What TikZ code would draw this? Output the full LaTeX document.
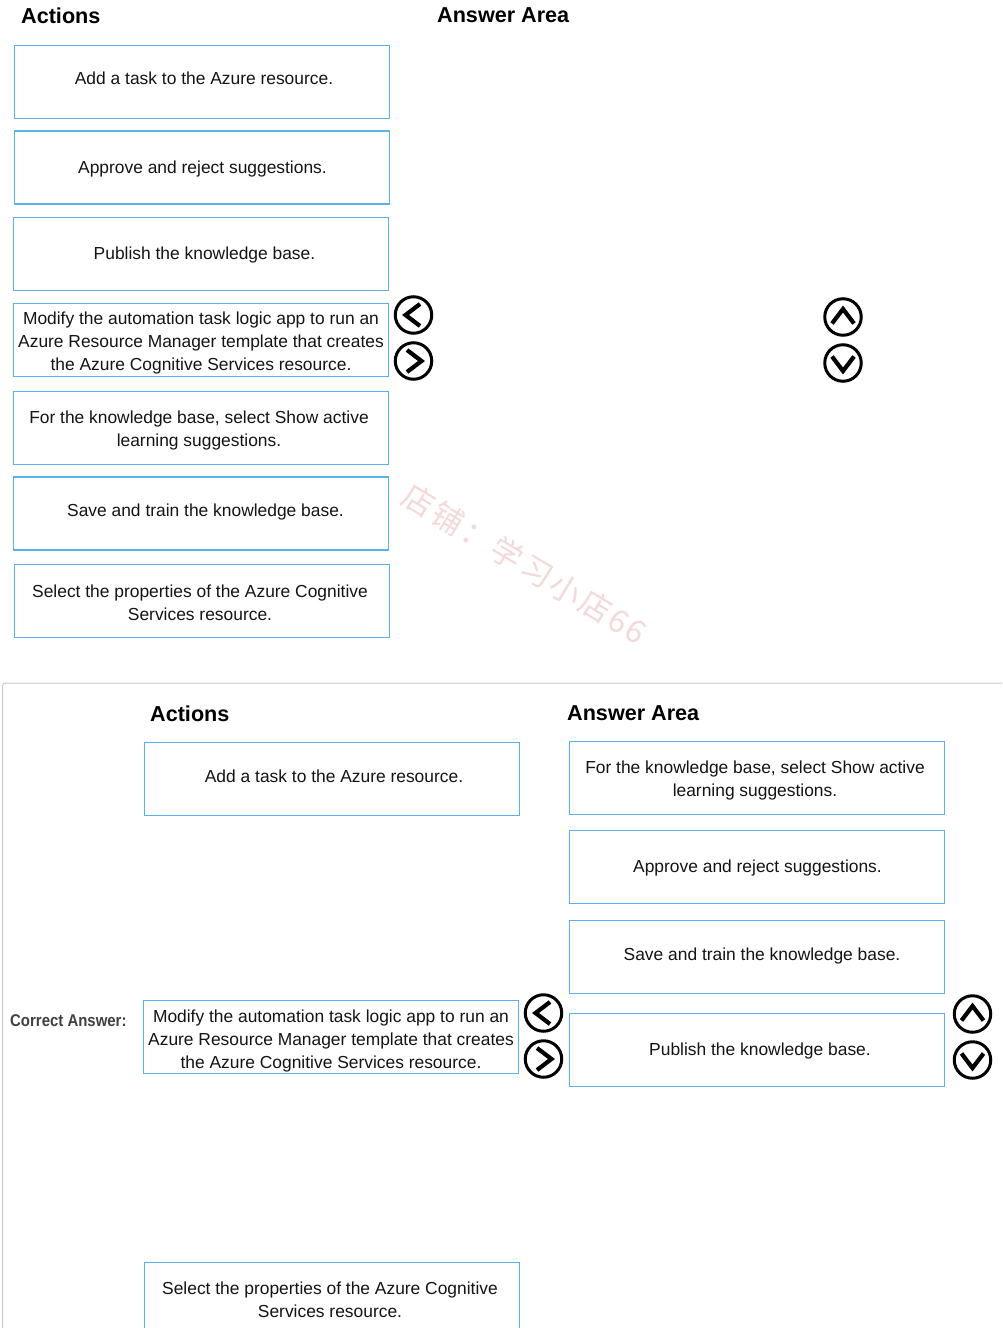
\documentclass[tikz,border=0pt]{standalone}
\usepackage{fontspec}
\setmainfont{Liberation Sans}
\newfontfamily\cjkwm[LetterSpace=9]{Noto Sans CJK SC}
\definecolor{boxblue}{HTML}{5AB2EA}
\definecolor{wmpink}{HTML}{F3DADA}
\tikzset{
  x=1pt,y=-1pt,
  actbox/.style={draw=boxblue,line width=1.25pt,fill=white,minimum width=375pt,minimum height=73pt,inner sep=0pt,outer sep=0pt},
  boxtext/.style={inner sep=0pt,align=center,font=\fontsize{17.4}{23}\selectfont,text=black!92},
  headtext/.style={font=\bfseries\fontsize{21.6}{26}\selectfont,inner sep=0pt,anchor=base west},
  roundbtn/.style={circle,draw=black,line width=3pt,minimum size=36.5pt,inner sep=0pt},
  chev/.style={line width=4.2pt,line cap=butt,line join=miter,black}
}
% name, box position, text position, text
\newcommand{\actnode}[4]{\node[actbox] (#1) at #2 {};\node[boxtext] (#1t) at #3 {#4};}
\newcommand{\btnleft}[2]{\node[roundbtn] (#1) at #2 {};\draw[chev] ([shift={(6.5,-11)}]#1.center) -- ([shift={(-8,0)}]#1.center) -- ([shift={(6.5,11)}]#1.center);}
\newcommand{\btnright}[2]{\node[roundbtn] (#1) at #2 {};\draw[chev] ([shift={(-6.5,-11)}]#1.center) -- ([shift={(8,0)}]#1.center) -- ([shift={(-6.5,11)}]#1.center);}
\newcommand{\btnup}[2]{\node[roundbtn] (#1) at #2 {};\draw[chev] ([shift={(-11,6.5)}]#1.center) -- ([shift={(0,-8)}]#1.center) -- ([shift={(11,6.5)}]#1.center);}
\newcommand{\btndown}[2]{\node[roundbtn] (#1) at #2 {};\draw[chev] ([shift={(-11,-6.5)}]#1.center) -- ([shift={(0,8)}]#1.center) -- ([shift={(11,-6.5)}]#1.center);}
\begin{document}
\begin{tikzpicture}
\useasboundingbox (0,0) rectangle (1002,1328);
\fill[white] (0,0) rectangle (1002,1328);
% top panel
\node[headtext] (h1) at (21,23) {Actions};
\node[headtext] (h2) at (437,22) {Answer Area};
\actnode{a1}{(202,82)}{(204,78.5)}{Add a task to the Azure resource.}
\actnode{a2}{(202,167.5)}{(202.5,168.5)}{Approve and reject suggestions.}
\actnode{a3}{(201,254)}{(204.5,255)}{Publish the knowledge base.}
\actnode{a4}{(201,340)}{(201,342.5)}{Modify the automation task logic app to run an\\Azure Resource Manager template that creates\\the Azure Cognitive Services resource.}
\actnode{a5}{(201,428)}{(199,430)}{For the knowledge base, select Show active\\learning suggestions.}
\actnode{a6}{(201,513.5)}{(205.5,512)}{Save and train the knowledge base.}
\actnode{a7}{(202,601)}{(200,603)}{Select the properties of the Azure Cognitive\\Services resource.}
\btnleft{b1}{(413.5,315)}
\btnright{b2}{(413.5,361)}
\btnup{b3}{(843,317)}
\btndown{b4}{(843,363)}
% watermark
\node[rotate=-31,text=wmpink,font=\cjkwm\fontsize{31.5}{35}\selectfont,inner sep=0pt] (wm) at (525,564) {店铺：学习小店66};
% bottom panel
\draw[draw=black!22,line width=1pt,rounded corners=3pt] (2.5,1328) -- (2.5,683) -- (1002,683);
\node[headtext] (h3) at (150,721) {Actions};
\node[headtext] (h4) at (567,720) {Answer Area};
\node[anchor=base west,inner sep=0pt,font=\bfseries\fontsize{17}{20}\selectfont,text=black!75,xscale=.88] (ca) at (10,1026) {Correct Answer:};
\actnode{c1}{(332,779)}{(334,776.5)}{Add a task to the Azure resource.}
\actnode{c2}{(331,1037)}{(331,1040.5)}{Modify the automation task logic app to run an\\Azure Resource Manager template that creates\\the Azure Cognitive Services resource.}
\actnode{c3}{(332,1299)}{(330,1300)}{Select the properties of the Azure Cognitive\\Services resource.}
\actnode{d1}{(757,778)}{(755,780)}{For the knowledge base, select Show active\\learning suggestions.}
\actnode{d2}{(757,867)}{(757.5,868)}{Approve and reject suggestions.}
\actnode{d3}{(757,957)}{(762,956)}{Save and train the knowledge base.}
\actnode{d4}{(757,1050)}{(760,1050.5)}{Publish the knowledge base.}
\btnleft{b5}{(543.5,1013)}
\btnright{b6}{(543.5,1059)}
\btnup{b7}{(972.5,1014)}
\btndown{b8}{(972.5,1060)}
\end{tikzpicture}
\end{document}
